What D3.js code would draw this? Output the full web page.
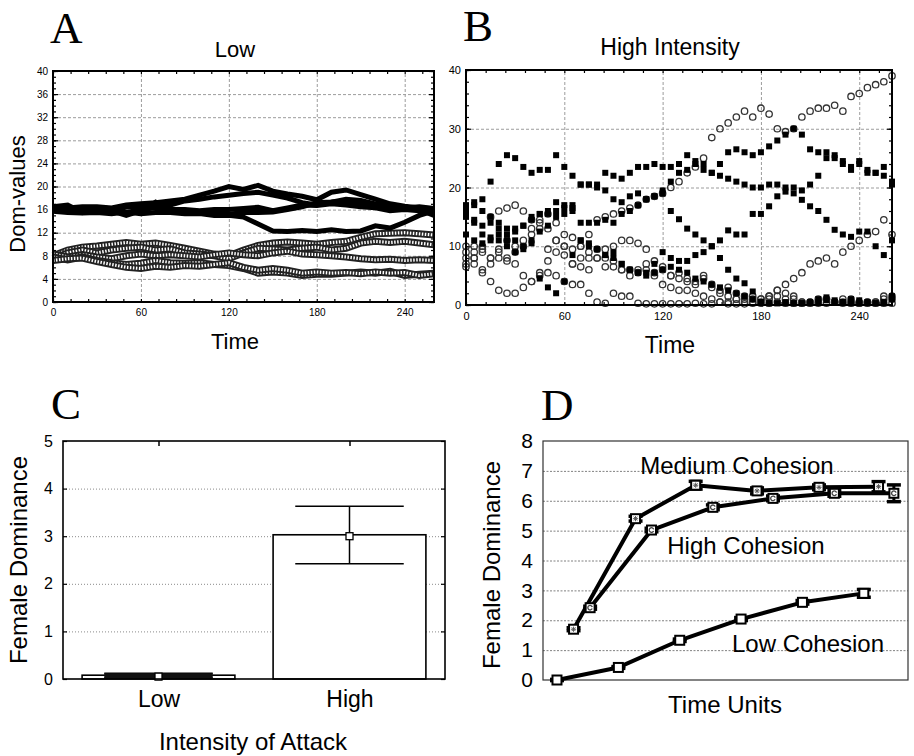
<!DOCTYPE html>
<html><head><meta charset="utf-8">
<script src="https://cdn.jsdelivr.net/npm/d3@7"></script>
<style>
body{margin:0;background:#fff}
svg{display:block}
text{font-family:"Liberation Sans",Arial,Helvetica,sans-serif;fill:#000}
</style>
</head><body>
<svg id="c" width="914" height="756"></svg>
<script>
// ---------------- DATA ----------------
// Panel A (Low intensity): dominance values sampled every 10 time units
const timeA = [0,10,20,30,40,50,60,70,80,90,100,110,120,130,140,150,160,170,180,190,200,210,220,230,240,250,260];
const lowMale1 = [16,16.3,16.5,16.5,16.3,16.8,17,17.2,17.5,17.8,18.5,19.2,20,19.5,20.2,19.2,18.7,18.3,17.7,19,19.4,18.6,17.8,17,16.6,16.3,15.9];
const lowMale2 = [15.8,16,15.8,16,15.5,16.5,16.6,16.5,16.8,17.5,17.8,18.2,18.5,18.8,19,18.5,18,17.2,16.8,17.3,17.8,17.6,17,16.7,16.3,16.5,16.2];
const lowMale3 = [16.2,15.7,16,15.5,16,15.5,16,16.3,16,16,15.8,16,16,16.2,16.4,15.8,16.3,16.8,16.7,17,16.8,16.5,16.3,15.8,16,15.8,15.3];
const lowMale4 = [15.7,15.5,15.4,15.5,15.3,15.6,15.3,15.5,15.5,15.3,15.3,15,15,14.7,13.5,12.3,12.2,12.4,12.2,12.5,12.2,12.3,13.2,12.8,13.8,15,15.8];
const lowMale5 = [16.5,16.8,15.5,16.3,15.8,15,15.8,17.3,15.6,15.5,15.6,15.5,15.2,15.5,15.5,15.6,16,16.5,17.2,17.3,17.5,17,16.8,16.5,16.3,16,15];
const lowFem1 = [8,9,9.5,9.7,10,10.3,10,10.2,9.8,9.3,8.8,8.3,8,9,9.8,10.2,10.4,10.2,10,10.3,10.5,11.2,11.8,11.9,12,11.8,11.6];
const lowFem2 = [7.5,8.5,9,8.5,9,9.3,9.5,9,9.2,8.5,8.3,8,7.5,8.5,9.3,9.2,9,9.3,9.5,9,9.3,10.2,10.5,10.3,10.5,10.2,9.9];
const lowFem3 = [8.3,7.8,8.2,7.8,7.5,8,8.3,8,8.2,8,7.8,8.2,8.5,8.2,8,8.5,8.8,8.3,8.2,8,7.8,7.5,7.3,7.4,7.2,7.3,7.2];
const lowFem4 = [7.8,7.3,7.8,7.2,6.8,6.5,6.7,7.2,6.8,6.7,6.8,6.5,6.3,5.8,5,5.2,5,4.6,4.8,4.8,5,5.2,5,5.3,4.6,4.8,5];
const lowFem5 = [7.2,7.5,7.6,7,6.5,6,5.8,6.2,6,6.3,6.2,6.5,6.8,6,5.5,5.8,5.5,5,5.2,5,5.1,4.9,5.2,5,5.1,4.6,4.9];
const ticksAy = [0,4,8,12,16,20,24,28,32,36,40];
const ticksTime = [0,60,120,180,240];

// Panel B (High intensity): dominance values sampled every 5 time units
const timeB = [0,5,10,15,20,25,30,35,40,45,50,55,60,65,70,75,80,85,90,95,100,105,110,115,120,125,130,135,140,145,150,155,160,165,170,175,180,185,190,195,200,205,210,215,220,225,230,235,240,245,250,255,260];
const highMale1 = [16,17,18,21,24,25.5,25,23.5,22.5,23,23,25.5,23.5,22,20.5,20.5,20.5,22.5,22,21.5,22.5,23.5,23.5,24,23.5,23.5,24,25.5,24.5,23,22.5,22,21.5,21,20.5,20,20,20.5,20.5,20,20,19.5,20.5,22,25,25,24.5,23.5,24,22.5,22.5,23.5,21];
const highMale2 = [15,14.5,13.5,14,12,11,12.5,13.5,14.5,15.5,16,16,16.5,17,14,14,14,14.5,14,15.5,16,17,18,18.5,19.5,21,22.5,23,24,24,22.5,24,26,26.5,26,25.5,26,27,28,29,30,29,26.5,26,26,25.5,24,23,24.5,23,22.5,22,20.5];
const highMale3 = [17,17.5,16,15,14,13,13,13.5,15,15.5,15.5,17.5,17,16,20.5,20.5,20,19.5,18,17.5,18.5,19,18,18.5,19,16,14.6,13,12,11,10,8,6,4.5,3.7,2.3,0.5,0.3,0.3,0.3,0.3,0.3,0.3,0.5,0.8,0.5,0.5,0.3,0.3,0.3,0.3,0.5,1];
const highMale4 = [12,11,10.5,11.5,11,10,9,9.5,10.5,4.5,3,2,4,8.5,11,10.5,9.5,8.5,8,7,6,5.5,5.5,7,9,8,7.5,7.5,8.5,9,10,11,12.7,12,12,15.5,15.5,16.8,18.5,19.3,19,17.9,16.8,16,14.5,12.8,12,11.6,12.5,12.5,10,8.5,11];
const highMale5 = [16.5,14,12,11,13,12,11,10,11,12.5,13.5,15,15.5,16.5,11,10,9.5,8.5,9,7,6,5.5,5,5.5,6,6.5,6,5.5,4.5,4,3.5,3,2.5,2,1.5,1,0.5,0.3,0.3,0.5,0.3,0.3,0.5,1,1.3,0.8,0.5,1,0.8,0.5,0.3,0.3,1.5];
const highFem1 = [9,10,10,15,16,16.5,17,16,14.5,14,13,11,10,9.5,10,12,14.5,15,15.5,16,16.5,17,18,18.5,19,20,21,22.5,23.5,25,28.5,30,31,32,33,32,33.5,32.5,30,29.5,30,32,33,33.5,33.5,34,33,35.5,36,37,37.5,38,39];
const highFem2 = [8,7,5.5,4,2.5,2,2,3,4,5,5.5,5,4,3.5,3.5,2,0.5,0.3,2,1.5,1.5,0.3,0.2,0.2,0.2,0.2,0.2,0.2,0.3,0.2,0.2,0.5,0.5,1,1,1.5,1,1.5,1.5,1,1,0.5,0.5,1,1,0.5,0.5,1,0.5,0.5,0.5,1,1.5];
const highFem3 = [7,8,9,8,9.5,8,7,5,4,5.5,7.5,9,8.5,7,8,8,8,6.5,10,11,11,10.5,9.5,7.5,6,5,4.5,4,3.5,4.5,3,2,1.5,1,0.5,0.5,1,1.5,2.5,3.5,4.5,5.5,7,7.5,8,7,9,10,11,12,12.5,14.5,12];
const highFem4 = [6.5,8,6,7,8,7.5,9,10,12,13,9.5,11,10,7,6.5,6,8,9.5,7.5,6,5,5.5,6,5,3.5,3,2.5,2.5,2,1.5,1,0.5,0.2,0.2,0.2,0.3,0.3,0.3,0.5,0.3,0.3,0.3,0.5,0.3,0.3,0.5,0.3,0.3,0.3,0.5,0.3,0.3,0.3];
const highFem5 = [10,9,9.5,8,9,11,10,11,13,14.5,15.5,14,12,11.5,10,9,9.5,8,6.5,6,6,6,7,5.5,6.5,5,5.5,4.5,4,5,3.5,2.5,3,2,1.5,1,0.5,1,2.5,2,1.5,0.5,0.3,0.5,1,0.5,1,0.5,0.3,0.3,0.5,1.5,1];
const ticksBy = [0,10,20,30,40];

// Panel C
const attackCats = ["Low","High"];
const attackBar = [0.08,3.03];
const attackMean = [0.05,3.0];
const attackErrLo = [0.02,2.42];
const attackErrHi = [0.12,3.63];
const ticksCy = [0,1,2,3,4,5];

// Panel D
const timeLow = [0,1,2,3,4,5];
const timeMed = [0.27,1.28,2.26,3.26,4.27,5.24];
const timeHigh = [0.54,1.54,2.54,3.52,4.52,5.49];
const lowCoh = [0,0.42,1.33,2.04,2.6,2.9];
const lowCohErr = [0.02,0.03,0.04,0.05,0.06,0.13];
const medCoh = [1.7,5.4,6.52,6.33,6.45,6.47];
const medCohErr = [0.05,0.08,0.13,0.1,0.08,0.17];
const highCoh = [2.42,5.02,5.78,6.08,6.25,6.25];
const highCohErr = [0.05,0.06,0.08,0.08,0.1,0.28];
const ticksDy = [0,1,2,3,4,5,6,7,8];

// ---------------- DRAW ----------------
const svg = d3.select("#c");
const font = '"Liberation Sans",Arial,Helvetica,sans-serif';
const serif = '"Liberation Serif","Times New Roman",serif';

function cleanAxis(g){ g.select(".domain").remove(); }
function styleGrid(g, dash, col){ cleanAxis(g); g.selectAll("line").attr("stroke",col).attr("stroke-dasharray",dash).attr("stroke-width",1); }

function panelLetter(t,x,y){
  svg.append("text").attr("x",x).attr("y",y).text(t)
    .style("font-family",serif).style("font-size","45px");
}

// ====== Panel A ======
(function(){
  const L=53,R=434,T=71,B=302;
  const x = d3.scaleLinear().domain([0,260]).range([L,R]);
  const y = d3.scaleLinear().domain([0,40]).range([B,T]);
  const g = svg.append("g");
  g.append("g").attr("transform",`translate(${L},0)`)
    .call(d3.axisLeft(y).tickValues(ticksAy.slice(1,-1)).tickSize(-(R-L)).tickFormat(""))
    .call(a=>styleGrid(a,"3,2","#9c9c9c"));
  g.append("g").attr("transform",`translate(0,${B})`)
    .call(d3.axisBottom(x).tickValues(ticksTime.slice(1)).tickSize(-(B-T)).tickFormat(""))
    .call(a=>styleGrid(a,"3,2","#9c9c9c"));
  const minorY = d3.range(0,41,1), minorX = d3.range(0,261,12);
  [[d3.axisLeft,L,3,minorY],[d3.axisRight,R,3,minorY],[d3.axisLeft,L,5,ticksAy],[d3.axisRight,R,5,ticksAy]].forEach(([ax,px,len,vals])=>{
    g.append("g").attr("transform",`translate(${px},0)`).call(ax(y).tickValues(vals).tickSize(-len).tickFormat(""))
      .call(a=>{cleanAxis(a);a.selectAll("line").attr("stroke","#000").attr("stroke-width",1.2);});
  });
  [[d3.axisBottom,B,minorX],[d3.axisTop,T,minorX]].forEach(([ax,py,vals])=>{
    g.append("g").attr("transform",`translate(0,${py})`).call(ax(x).tickValues(vals).tickSize(-3).tickFormat(""))
      .call(a=>{cleanAxis(a);a.selectAll("line").attr("stroke","#000").attr("stroke-width",1.2);});
  });
  g.append("g").attr("transform",`translate(${L},0)`).call(d3.axisLeft(y).tickValues(ticksAy).tickSize(0).tickPadding(5))
    .call(a=>{cleanAxis(a);a.selectAll("text").style("font-size","10px").style("font-family",font).attr("fill","#000");});
  g.append("g").attr("transform",`translate(0,${B})`).call(d3.axisBottom(x).tickValues(ticksTime).tickSize(0).tickPadding(7))
    .call(a=>{cleanAxis(a);a.selectAll("text").style("font-size","10px").style("font-family",font).attr("fill","#000");});
  const line = d3.line().x((d,i)=>x(timeA[i])).y(d=>y(d));
  [lowFem1,lowFem2,lowFem3,lowFem4,lowFem5].forEach(s=>{
    g.append("path").attr("d",line(s)).attr("fill","none").attr("stroke","#222").attr("stroke-width",7);
    g.append("path").attr("d",line(s)).attr("fill","none").attr("stroke","#fff").attr("stroke-width",3.2).attr("stroke-dasharray","1.5,1.5");
  });
  [lowMale1,lowMale2,lowMale3,lowMale4,lowMale5].forEach(s=>{
    g.append("path").attr("d",line(s)).attr("fill","none").attr("stroke","#000").attr("stroke-width",5).attr("stroke-linejoin","miter");
  });
  g.append("rect").attr("x",L).attr("y",T).attr("width",R-L).attr("height",B-T).attr("fill","none").attr("stroke","#000").attr("stroke-width",2);
  svg.append("text").attr("x",235).attr("y",57).attr("text-anchor","middle").style("font-size","22px").text("Low");
  svg.append("text").attr("x",235).attr("y",349).attr("text-anchor","middle").style("font-size","22px").text("Time");
  svg.append("text").attr("transform","translate(25,194) rotate(-90)").attr("text-anchor","middle").style("font-size","22px").text("Dom-values");
  panelLetter("A",50,43);
})();

// ====== Panel B ======
(function(){
  const L=466,R=892,T=70,B=305;
  const x = d3.scaleLinear().domain([0,260]).range([L,R]);
  const y = d3.scaleLinear().domain([0,40]).range([B,T]);
  const g = svg.append("g");
  g.append("g").attr("transform",`translate(${L},0)`)
    .call(d3.axisLeft(y).tickValues(ticksBy.slice(1,-1)).tickSize(-(R-L)).tickFormat(""))
    .call(a=>styleGrid(a,"3,2","#9c9c9c"));
  g.append("g").attr("transform",`translate(0,${B})`)
    .call(d3.axisBottom(x).tickValues(ticksTime.slice(1)).tickSize(-(B-T)).tickFormat(""))
    .call(a=>styleGrid(a,"3,2","#9c9c9c"));
  const minorY = d3.range(0,41,2), minorX = d3.range(0,261,12);
  [[d3.axisLeft,L,3,minorY],[d3.axisRight,R,3,minorY],[d3.axisLeft,L,5,ticksBy],[d3.axisRight,R,5,ticksBy]].forEach(([ax,px,len,vals])=>{
    g.append("g").attr("transform",`translate(${px},0)`).call(ax(y).tickValues(vals).tickSize(-len).tickFormat(""))
      .call(a=>{cleanAxis(a);a.selectAll("line").attr("stroke","#000").attr("stroke-width",1.2);});
  });
  [[d3.axisBottom,B,minorX],[d3.axisTop,T,minorX]].forEach(([ax,py,vals])=>{
    g.append("g").attr("transform",`translate(0,${py})`).call(ax(x).tickValues(vals).tickSize(-3).tickFormat(""))
      .call(a=>{cleanAxis(a);a.selectAll("line").attr("stroke","#000").attr("stroke-width",1.2);});
  });
  g.append("g").attr("transform",`translate(${L},0)`).call(d3.axisLeft(y).tickValues(ticksBy).tickSize(0).tickPadding(5))
    .call(a=>{cleanAxis(a);a.selectAll("text").style("font-size","11px").style("font-family",font).attr("fill","#000");});
  g.append("g").attr("transform",`translate(0,${B})`).call(d3.axisBottom(x).tickValues(ticksTime).tickSize(0).tickPadding(7))
    .call(a=>{cleanAxis(a);a.selectAll("text").style("font-size","11px").style("font-family",font).attr("fill","#000");});
  [highFem1,highFem2,highFem3,highFem4,highFem5].forEach(s=>{
    g.append("g").selectAll("circle").data(s).join("circle")
      .attr("cx",(d,i)=>x(timeB[i])).attr("cy",d=>y(d)).attr("r",3.2)
      .attr("fill","none").attr("stroke","#333").attr("stroke-width",1.3);
  });
  [highMale1,highMale2,highMale3,highMale4,highMale5].forEach(s=>{
    g.append("g").selectAll("rect").data(s).join("rect")
      .attr("x",(d,i)=>x(timeB[i])-3).attr("y",d=>y(d)-3).attr("width",6).attr("height",6).attr("fill","#000");
  });
  g.append("rect").attr("x",L).attr("y",T).attr("width",R-L).attr("height",B-T).attr("fill","none").attr("stroke","#000").attr("stroke-width",2);
  svg.append("text").attr("x",670).attr("y",55).attr("text-anchor","middle").style("font-size","23px").text("High Intensity");
  svg.append("text").attr("x",670).attr("y",353).attr("text-anchor","middle").style("font-size","23px").text("Time");
  panelLetter("B",463,41);
})();

// ====== Panel C ======
(function(){
  const L=63,R=445,T=441,B=679;
  const x = d3.scaleBand().domain(attackCats).range([L,R]).paddingInner(0.2).paddingOuter(0.1);
  const y = d3.scaleLinear().domain([0,5]).range([B,T]);
  const g = svg.append("g");
  g.append("g").attr("transform",`translate(${L},0)`)
    .call(d3.axisLeft(y).tickValues([1,2,3,4]).tickSize(-(R-L)).tickFormat(""))
    .call(a=>styleGrid(a,"1,2","#8a8a8a"));
  [[d3.axisLeft,L],[d3.axisRight,R]].forEach(([ax,px])=>{
    g.append("g").attr("transform",`translate(${px},0)`).call(ax(y).tickValues(ticksCy).tickSize(-4).tickFormat(""))
      .call(a=>{cleanAxis(a);a.selectAll("line").attr("stroke","#000").attr("stroke-width",1.2);});
  });
  const xc = d3.scalePoint().domain(attackCats).range([x("Low")+x.bandwidth()/2, x("High")+x.bandwidth()/2]);
  [[d3.axisBottom,B],[d3.axisTop,T]].forEach(([ax,py])=>{
    g.append("g").attr("transform",`translate(0,${py})`).call(ax(xc).tickSize(-5).tickFormat(""))
      .call(a=>{cleanAxis(a);a.selectAll("line").attr("stroke","#000").attr("stroke-width",1.5);});
  });
  g.append("g").attr("transform",`translate(${L},0)`).call(d3.axisLeft(y).tickValues(ticksCy).tickFormat(d3.format("d")).tickSize(0).tickPadding(10))
    .call(a=>{cleanAxis(a);a.selectAll("text").style("font-size","16px").style("font-family",font).attr("fill","#000");});
  g.append("g").attr("transform",`translate(0,${B})`).call(d3.axisBottom(xc).tickSize(0).tickPadding(12))
    .call(a=>{cleanAxis(a);a.selectAll("text").style("font-size","23px").style("font-family",font).attr("fill","#000");});
  g.selectAll(".bar").data(attackCats).join("rect")
    .attr("x",d=>x(d)).attr("width",x.bandwidth())
    .attr("y",(d,i)=>y(attackBar[i])).attr("height",(d,i)=>y(0)-y(attackBar[i]))
    .attr("fill","#fff").attr("stroke","#000").attr("stroke-width",1.6);
  const capW = x.bandwidth()*0.71;
  attackCats.forEach((c,i)=>{
    const cx = xc(c);
    g.append("line").attr("x1",cx).attr("x2",cx).attr("y1",y(attackErrLo[i])).attr("y2",y(attackErrHi[i])).attr("stroke","#000").attr("stroke-width",1.5);
    [attackErrLo[i],attackErrHi[i]].forEach(v=>{
      g.append("line").attr("x1",cx-capW/2).attr("x2",cx+capW/2).attr("y1",y(v)).attr("y2",y(v)).attr("stroke","#000").attr("stroke-width",1.5);
    });
    if(i===0){
      g.append("rect").attr("x",cx-capW/2).attr("width",capW).attr("y",y(attackErrHi[i])).attr("height",y(attackErrLo[i])-y(attackErrHi[i])).attr("fill","#111");
    }
    g.append("rect").attr("x",cx-3.5).attr("y",y(attackMean[i])-3.5).attr("width",7).attr("height",7).attr("fill","#fff").attr("stroke","#000").attr("stroke-width",1.3);
  });
  g.append("rect").attr("x",L).attr("y",T).attr("width",R-L).attr("height",B-T).attr("fill","none").attr("stroke","#000").attr("stroke-width",1.6);
  svg.append("text").attr("transform","translate(27,560) rotate(-90)").attr("text-anchor","middle").style("font-size","24px").text("Female Dominance");
  svg.append("text").attr("x",253).attr("y",750).attr("text-anchor","middle").style("font-size","24px").text("Intensity of Attack");
  panelLetter("C",51,419);
})();

// ====== Panel D ======
(function(){
  const L=543,R=908,T=441,B=680;
  const x = d3.scaleLinear().domain([-0.228,5.72]).range([L,R]);
  const y = d3.scaleLinear().domain([0,8]).range([B,T]);
  const g = svg.append("g");
  g.append("g").attr("transform",`translate(${L},0)`)
    .call(d3.axisLeft(y).tickValues(ticksDy.slice(1,-1)).tickSize(-(R-L)).tickFormat(""))
    .call(a=>styleGrid(a,"2,1.5","#808080"));
  g.append("g").attr("transform",`translate(${L},0)`).call(d3.axisLeft(y).tickValues(ticksDy).tickSize(0).tickPadding(10))
    .call(a=>{cleanAxis(a);a.selectAll("text").style("font-size","21px").style("font-family",font).attr("fill","#000");});
  g.append("rect").attr("x",L).attr("y",T).attr("width",R-L).attr("height",B-T).attr("fill","none").attr("stroke","#333").attr("stroke-width",1.2);
  const series = [
    {t:timeLow, v:lowCoh, e:lowCohErr, kind:"low"},
    {t:timeHigh, v:highCoh, e:highCohErr, kind:"high"},
    {t:timeMed, v:medCoh, e:medCohErr, kind:"med"}
  ];
  series.forEach(s=>{
    const line = d3.line().x((d,i)=>x(s.t[i])).y(d=>y(d));
    g.append("path").attr("d",line(s.v)).attr("fill","none").attr("stroke","#000").attr("stroke-width",4).attr("stroke-linejoin","round");
  });
  series.forEach(s=>{
    s.v.forEach((v,i)=>{
      const cx = x(s.t[i]), cy = y(v);
      const y1 = y(v + s.e[i]), y2 = y(v - s.e[i]);
      g.append("line").attr("x1",cx).attr("x2",cx).attr("y1",y1).attr("y2",y2).attr("stroke","#000").attr("stroke-width",3);
      [y1,y2].forEach(yy=>g.append("line").attr("x1",cx-7).attr("x2",cx+7).attr("y1",yy).attr("y2",yy).attr("stroke","#000").attr("stroke-width",3.5));
      g.append("rect").attr("x",cx-4.5).attr("y",cy-4.5).attr("width",9).attr("height",9).attr("fill","#fff").attr("stroke","#000").attr("stroke-width",2);
      if(s.kind==="med"){
        [[0,-2.6,0,2.6],[-2.6,0,2.6,0],[-1.9,-1.9,1.9,1.9],[-1.9,1.9,1.9,-1.9]].forEach(p=>
          g.append("line").attr("x1",cx+p[0]).attr("y1",cy+p[1]).attr("x2",cx+p[2]).attr("y2",cy+p[3]).attr("stroke","#555").attr("stroke-width",1));
      } else if(s.kind==="high"){
        const p = d3.path(); p.arc(cx,cy,2.3,0.4,2*Math.PI-0.3);
        g.append("path").attr("d",p.toString()).attr("fill","none").attr("stroke","#444").attr("stroke-width",1.3);
      }
    });
  });
  svg.append("text").attr("x",737).attr("y",474).attr("text-anchor","middle").style("font-size","24px").text("Medium Cohesion");
  svg.append("text").attr("x",746).attr("y",554).attr("text-anchor","middle").style("font-size","24px").text("High Cohesion");
  svg.append("text").attr("x",808).attr("y",652).attr("text-anchor","middle").style("font-size","24px").text("Low Cohesion");
  svg.append("text").attr("x",725).attr("y",713).attr("text-anchor","middle").style("font-size","24px").text("Time Units");
  svg.append("text").attr("transform","translate(500,565) rotate(-90)").attr("text-anchor","middle").style("font-size","24px").text("Female Dominance");
  panelLetter("D",541,420);
})();
</script>
</body></html>
